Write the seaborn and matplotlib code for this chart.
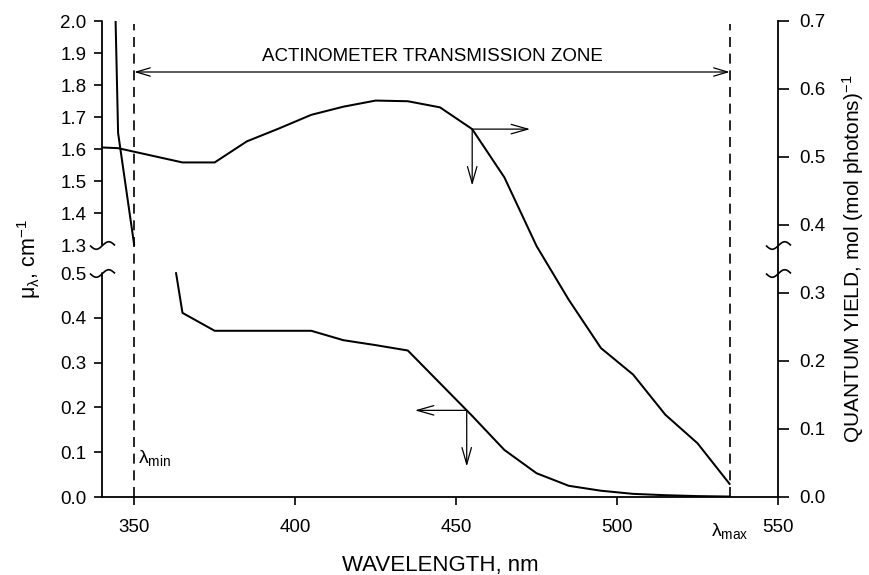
import numpy as np
import matplotlib
matplotlib.use("Agg")
import matplotlib.pyplot as plt
import seaborn as sns
from matplotlib.path import Path
from matplotlib.lines import Line2D

# ---------------- data ----------------
wl_qy = [340, 345, 365, 375, 385, 395, 405, 415, 425, 435, 445, 455, 465, 475,
         485, 495, 505, 515, 525, 535]
quantum_yield = [0.514, 0.513, 0.492, 0.492, 0.523, 0.542, 0.562, 0.574, 0.583,
                 0.582, 0.573, 0.541, 0.470, 0.369, 0.290, 0.219, 0.180, 0.121,
                 0.079, 0.019]

wl_mu_high = [344, 345, 350]
mu_high = [2.10, 1.65, 1.30]

wl_mu_low = [363, 365, 375, 405, 415, 425, 435, 445, 455, 465, 475, 485, 495,
             505, 515, 525, 535]
mu_low = [0.503, 0.411, 0.371, 0.371, 0.350, 0.339, 0.327, 0.254, 0.181, 0.105,
          0.053, 0.025, 0.014, 0.007, 0.004, 0.002, 0.001]

lambda_min, lambda_max = 350, 535
x_ticks = [350, 400, 450, 500, 550]
mu_ticks = [0.0, 0.1, 0.2, 0.3, 0.4, 0.5, 1.3, 1.4, 1.5, 1.6, 1.7, 1.8, 1.9, 2.0]
qy_ticks = [0.0, 0.1, 0.2, 0.3, 0.4, 0.5, 0.6, 0.7]
zone_text = "ACTINOMETER TRANSMISSION ZONE"

# ---------------- style ----------------
sns.set_theme(style="ticks")
plt.rcParams["font.family"] = ["Liberation Sans", "DejaVu Sans"]
plt.rcParams["mathtext.fontset"] = "custom"
plt.rcParams["mathtext.rm"] = "Liberation Sans"
plt.rcParams["mathtext.it"] = "Liberation Sans:italic"
plt.rcParams["mathtext.bf"] = "Liberation Sans:bold"
plt.rcParams["mathtext.default"] = "regular"
plt.rcParams["axes.linewidth"] = 1.3
for key in ("text.color", "axes.labelcolor", "xtick.color", "ytick.color",
            "axes.edgecolor"):
    plt.rcParams[key] = "black"

fig = plt.figure(figsize=(8.7, 5.75), dpi=100)
ax = fig.add_axes([102 / 870, 1 - 497 / 575, 676 / 870, 476 / 575])
ax2 = ax.twinx()

LW = 1.45
# broken left axis: 0-0.5 lower half, 1.3-2.0 upper half
brk_in = [-1.0, 0.0, 0.5, 1.3, 2.0, 3.0]
brk_out = [-448.0, 0.0, 224.0, 252.0, 476.0, 796.0]


def fwd(v):
    return np.interp(v, brk_in, brk_out)


def inv(v):
    return np.interp(v, brk_out, brk_in)


sns.lineplot(x=wl_mu_high, y=mu_high, ax=ax, color="black", lw=LW, sort=False)
sns.lineplot(x=wl_mu_low, y=mu_low, ax=ax, color="black", lw=LW, sort=False)
sns.lineplot(x=wl_qy, y=quantum_yield, ax=ax2, color="black", lw=LW, sort=False)

ax.set_yscale("function", functions=(fwd, inv))
ax.set_xlim(340, 550)
ax.set_ylim(0, 2.0)
ax2.set_ylim(0, 0.7)

ax.set_xticks(x_ticks)
ax.set_xticklabels([str(t) for t in x_ticks])
ax.set_yticks(mu_ticks)
ax.set_yticklabels([f"{t:.1f}" for t in mu_ticks])
ax.yaxis.set_minor_locator(matplotlib.ticker.NullLocator())
ax2.set_yticks(qy_ticks)
ax2.set_yticklabels([f"{t:.1f}" for t in qy_ticks])

ax.tick_params(axis="x", length=6, width=1.2, pad=10, labelsize=13.5, direction="out")
ax.tick_params(axis="y", length=6, width=1.2, pad=5, labelsize=13.5, direction="out")
ax2.tick_params(axis="y", length=8, width=1.2, pad=7, labelsize=13.5, direction="out")

for tk, val in zip(ax.yaxis.get_major_ticks(), mu_ticks):
    if val in (0.5, 1.3):
        tk.tick1line.set_visible(False)

for s in ("top", "right", "left"):
    ax.spines[s].set_visible(False)
for s in ("top", "left", "bottom"):
    ax2.spines[s].set_visible(False)
ax2.spines["right"].set_linewidth(1.3)

# left spine in two pieces
ytr = ax.get_yaxis_transform()
for lo, hi in ((0.0, 0.5), (1.3, 2.0)):
    ax.add_artist(Line2D([0, 0], [lo, hi], transform=ytr, color="black",
                         lw=1.3, clip_on=False))

# break marks (tildes)
tt = np.linspace(-1, 1, 41)
tilde = Path(np.column_stack([tt, 0.3 * np.sin(np.pi * tt)]))
for xa in (0, 1):
    for yv in (0.5, 1.3):
        ax.add_artist(Line2D([xa], [yv], transform=ytr, marker=tilde, ms=18,
                             mfc="none", mec="black", mew=1.2, ls="none",
                             clip_on=False))

# dashed limits
ax2.vlines([lambda_min, lambda_max], 0, 0.695, colors="black", lw=1.2,
           linestyles=(0, (6, 4)))

# zone arrow and text
ax2.annotate("", xy=(lambda_min, 0.625), xytext=(lambda_max, 0.625),
             arrowprops=dict(arrowstyle="<->,head_length=1.0,head_width=0.3",
                             mutation_scale=10, lw=0.9, color="black",
                             shrinkA=0, shrinkB=0))
ax2.text((lambda_min + lambda_max) / 2, 0.6416, zone_text, ha="center",
         va="baseline", fontsize=13.5)

# arrows on curves
arrow_kw = dict(arrowstyle="->,head_length=1.2,head_width=0.34",
                mutation_scale=10, lw=0.9, color="black", shrinkA=0, shrinkB=0)
qx = 455
qy0 = np.interp(qx, wl_qy, quantum_yield)
ax2.annotate("", xy=(473, qy0), xytext=(qx, qy0), arrowprops=arrow_kw)
ax2.annotate("", xy=(qx, 0.458), xytext=(qx, qy0), arrowprops=arrow_kw)

mx = 453.3
my0 = np.interp(mx, wl_mu_low, mu_low)
ax.annotate("", xy=(437.2, my0), xytext=(mx, my0), arrowprops=arrow_kw)
ax.annotate("", xy=(mx, 0.068), xytext=(mx, my0), arrowprops=arrow_kw)

# lambda labels
ax.text(351.3, 0.087, "λ$_{min}$", ha="left", va="center", fontsize=14)
ax.text(lambda_max, -0.05, "λ$_{max}$", ha="center", va="top", fontsize=14,
        transform=ax.get_xaxis_transform())

# axis labels
ax.set_xlabel("WAVELENGTH, nm", fontsize=16)
ax.xaxis.set_label_coords(0.5, -0.121)
ax.set_ylabel("μ$_λ$, cm$^{-1}$", fontsize=15.5)
ax.yaxis.set_label_coords(-0.087, 0.5)
ax2.set_ylabel("QUANTUM YIELD, mol (mol photons)$^{-1}$", fontsize=15)
ax2.yaxis.set_label_coords(1.092, 0.5)

fig.savefig("out.png", dpi=100, facecolor="white")
